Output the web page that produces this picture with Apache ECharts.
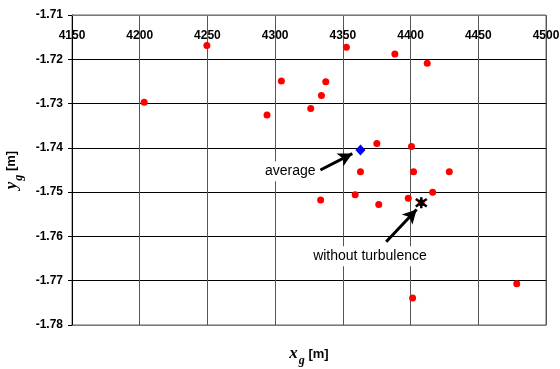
<!DOCTYPE html>
<html>
<head>
<meta charset="utf-8">
<script src="https://cdn.jsdelivr.net/npm/echarts@6/dist/echarts.min.js"></script>
<style>
    html, body { margin: 0; padding: 0; background: #fff; }
    #chart { width: 560px; height: 369px; }
</style>
</head>
<body>
<div id="chart"></div>
<script>
// x ticks and y ticks
var xTicks = [4150, 4200, 4250, 4300, 4350, 4400, 4450, 4500];
var yTicks = [-1.78, -1.77, -1.76, -1.75, -1.74, -1.73, -1.72, -1.71];

// red points (single runs)
var runX = [4249.6, 4203.3, 4294.0, 4304.6, 4352.6, 4388.4, 4412.3, 4337.4, 4334.2, 4326.3, 4375.1,
    4400.7, 4363.0, 4402.2, 4428.6, 4333.6, 4359.1, 4376.5, 4398.3, 4416.3, 4401.5, 4478.4, 4407.9];
var runY = [-1.7169, -1.7297, -1.7326, -1.7249, -1.7173, -1.7188, -1.7209, -1.7251, -1.7282, -1.7311, -1.7390,
    -1.7397, -1.7454, -1.7454, -1.7454, -1.7518, -1.7506, -1.7528, -1.7514, -1.7500, -1.7739, -1.7707, -1.7524];

// blue diamond and black star
var averagePoint = [4363.0, -1.7405];
var noTurbPoint = [4407.9, -1.7524];

// annotations: text position, arrow start, arrow end
var avgLabel = { text: 'average', at: [4311.2, -1.7453], from: [4333.4, -1.7450], to: [4357.0, -1.7413] };
var turbLabel = { text: 'without turbulence', at: [4370.0, -1.7645], from: [4382.0, -1.7612], to: [4404.5, -1.7539] };

var runData = runX.map(function (x, i) { return [x, runY[i]]; });

var starPath = 'path://M5 0L5 10M0.8 1.6L9.2 8.4M0.8 8.4L9.2 1.6';

function arrowLine(a) {
    return [{ coord: a.from }, { coord: a.to }];
}
function textPoint(a) {
    return {
        coord: a.at,
        symbolSize: 0,
        label: {
            show: true,
            position: 'inside',
            formatter: a.text,
            color: '#000',
            fontFamily: 'Liberation Sans, Arial, sans-serif',
            fontSize: 14,
            backgroundColor: '#fff',
            padding: [3, 4]
        }
    };
}

var nameRich = {
    v: { fontFamily: 'Liberation Serif, Times New Roman, serif', fontStyle: 'italic', fontWeight: 'bold', fontSize: 17, color: '#000', lineHeight: 26, verticalAlign: 'middle' },
    s: { fontFamily: 'Liberation Serif, Times New Roman, serif', fontStyle: 'italic', fontWeight: 'bold', fontSize: 12, color: '#000', lineHeight: 26, verticalAlign: 'bottom', padding: [0, 0, 0, 1] },
    n: { fontFamily: 'Liberation Sans, Arial, sans-serif', fontWeight: 'bold', fontSize: 13, color: '#000', lineHeight: 26, verticalAlign: 'middle' }
};

var chart = echarts.init(document.getElementById('chart'));
var option = {
    animation: false,
    backgroundColor: '#fff',
    grid: {
        left: 72,
        top: 15,
        width: 474,
        height: 310,
        outerBoundsMode: 'none',
        containLabel: false,
        show: true,
        borderColor: '#666',
        borderWidth: 1
    },
    xAxis: [{
        type: 'value',
        position: 'top',
        min: xTicks[0],
        max: xTicks[xTicks.length - 1],
        interval: 50,
        axisLine: { show: true, lineStyle: { color: '#777', width: 1 } },
        axisTick: { show: false },
        axisLabel: {
            inside: true,
            margin: 15,
            color: '#000',
            fontWeight: 'bold',
            fontSize: 12,
            fontFamily: 'Liberation Sans, Arial, sans-serif',
            formatter: function (v) { return String(v); }
        },
        splitLine: { show: true, lineStyle: { color: '#555', width: 1 } }
    }, {
        type: 'value',
        position: 'bottom',
        min: xTicks[0],
        max: xTicks[xTicks.length - 1],
        interval: 50,
        axisLine: { show: true, lineStyle: { color: '#777', width: 1 } },
        axisTick: { show: false },
        axisLabel: { show: false },
        splitLine: { show: false },
        name: '{v|x}{s|g}{n| [m]}',
        nameLocation: 'middle',
        nameGap: 16,
        nameTextStyle: { rich: nameRich }
    }],
    yAxis: {
        type: 'value',
        min: yTicks[0],
        max: yTicks[yTicks.length - 1],
        interval: 0.01,
        axisLine: { show: true, lineStyle: { color: '#000', width: 1 } },
        axisTick: { show: true, length: 4, lineStyle: { color: '#000' } },
        axisLabel: {
            margin: 9,
            color: '#000',
            fontWeight: 'bold',
            fontSize: 12,
            fontFamily: 'Liberation Sans, Arial, sans-serif',
            formatter: function (v) { return v.toFixed(2); }
        },
        splitLine: { show: true, lineStyle: { color: '#000', width: 1 } },
        name: '{v|y}{s|g}{n| [m]}',
        nameLocation: 'middle',
        nameGap: 42,
        nameRotate: 90,
        nameTextStyle: { rich: nameRich }
    },
    series: [{
        name: 'annotations',
        type: 'scatter',
        data: [],
        silent: true,
        markLine: {
            silent: true,
            symbol: ['none', 'arrow'],
            symbolSize: [11, 14],
            label: { show: false },
            lineStyle: { color: '#000', width: 3, type: 'solid' },
            data: [arrowLine(avgLabel), arrowLine(turbLabel)]
        },
        markPoint: {
            silent: true,
            data: [textPoint(avgLabel), textPoint(turbLabel)]
        }
    }, {
        name: 'runs',
        type: 'scatter',
        symbol: 'circle',
        symbolSize: 7,
        itemStyle: { color: '#ff0000', opacity: 1 },
        data: runData
    }, {
        name: 'average',
        type: 'scatter',
        symbol: 'diamond',
        symbolSize: [10, 11],
        itemStyle: { color: '#0000ff', opacity: 1 },
        data: [averagePoint]
    }, {
        name: 'without turbulence',
        type: 'scatter',
        symbol: starPath,
        symbolSize: 11,
        itemStyle: { color: 'none', borderColor: '#000', borderWidth: 2.5, opacity: 1 },
        data: [noTurbPoint]
    }]
};
chart.setOption(option);
</script>
</body>
</html>
